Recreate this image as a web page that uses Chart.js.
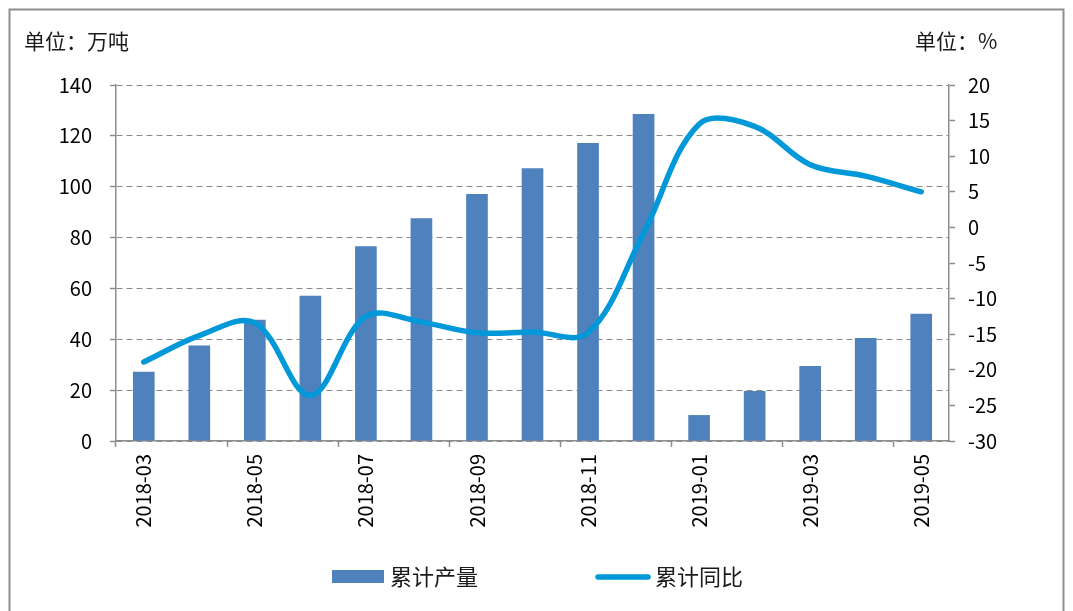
<!DOCTYPE html>
<html>
<head>
<meta charset="utf-8">
<script src="https://cdn.jsdelivr.net/npm/chart.js@4/dist/chart.umd.min.js"></script>
<style>
  html, body { margin: 0; padding: 0; background: #fff; }
  #wrap { width: 1073px; height: 611px; }
</style>
</head>
<body>
<div id="wrap"><canvas id="myChart" width="1073" height="611"></canvas></div>
<script>
// MONTHS ON THE X AXIS
const months = [
  "2018-03", "2018-04", "2018-05", "2018-06", "2018-07", "2018-08", "2018-09",
  "2018-10", "2018-11", "2018-12", "2019-01", "2019-02", "2019-03", "2019-04", "2019-05"
];

// 累计产量 (万吨)
const output = [27.2, 37.6, 47.7, 57.1, 76.6, 87.6, 97.1, 107.3, 117.2, 128.6, 10.2, 19.7, 29.5, 40.5, 50.0];

// 累计同比 (%)
const yoy = [-18.9, -15.2, -13.4, -23.6, -12.5, -13.3, -14.8, -14.7, -14.8, -0.8, 14.5, 14.2, 8.8, 7.2, 5.0];

// AXIS RANGES
const leftTicks = [0, 20, 40, 60, 80, 100, 120, 140];
const rightTicks = [-30, -25, -20, -15, -10, -5, 0, 5, 10, 15, 20];

const barColor = "#4f81bd";
const lineColor = "#0098d9";
const axisColor = "#8e8e8e";
const font = "'Noto Sans CJK SC', 'Noto Sans', sans-serif";

// FRAME, UNIT LABELS AND LEGEND
const extras = {
  id: "extras",
  beforeDraw(chart) {
    const ctx = chart.ctx;
    ctx.save();
    ctx.fillStyle = "#fff";
    ctx.fillRect(0, 0, chart.width, chart.height);
    ctx.restore();
  },
  afterDraw(chart) {
    const ctx = chart.ctx;
    ctx.save();
    ctx.strokeStyle = axisColor;
    ctx.lineWidth = 2;
    ctx.strokeRect(9.5, 9.5, 1054, 700);

    ctx.fillStyle = "#1a1a1a";
    ctx.textBaseline = "middle";
    ctx.font = "21px " + font;
    ctx.textAlign = "left";
    ctx.fillText("单位：万吨", 24, 41);
    ctx.fillText("单位：%", 915, 41);

    // legend
    ctx.font = "22px " + font;
    ctx.fillStyle = barColor;
    ctx.fillRect(332, 570, 52, 13);
    ctx.fillStyle = "#1a1a1a";
    ctx.fillText(chart.data.datasets[0].label, 390, 577);

    ctx.strokeStyle = lineColor;
    ctx.lineWidth = 5.5;
    ctx.lineCap = "round";
    ctx.beginPath();
    ctx.moveTo(598, 577);
    ctx.lineTo(648, 577);
    ctx.stroke();
    ctx.fillText(chart.data.datasets[1].label, 655, 577);
    ctx.restore();
  }
};

const myChart = document.getElementById("myChart").getContext("2d");

const productionChart = new Chart(myChart, {
  type: "bar",
  data: {
    labels: months,
    datasets: [
      {
        label: "累计产量",
        data: output,
        backgroundColor: barColor,
        borderWidth: 0,
        barPercentage: 0.39,
        categoryPercentage: 1,
        yAxisID: "y",
        order: 1,
      },
      {
        type: "line",
        label: "累计同比",
        data: yoy,
        borderColor: lineColor,
        borderWidth: 5.5,
        borderCapStyle: "round",
        borderJoinStyle: "round",
        pointRadius: 0,
        tension: 0.35,
        fill: false,
        yAxisID: "y1",
        order: 0,
      },
    ],
  },
  options: {
    responsive: false,
    animation: false,
    layout: { padding: { top: 85, left: 0, right: 0, bottom: 0 } },
    plugins: {
      legend: { display: false },
      tooltip: { enabled: false },
    },
    scales: {
      x: {
        offset: true,
        grid: {
          offset: true,
          drawOnChartArea: false,
          drawTicks: true,
          tickLength: 6,
          tickWidth: 1.5,
          tickColor: (c) => (c.index % 2 === 0 ? axisColor : "rgba(0,0,0,0)"),
        },
        border: { color: axisColor, width: 1.5 },
        ticks: {
          autoSkip: false,
          minRotation: 90,
          maxRotation: 90,
          padding: 7,
          color: "#000",
          font: { family: font, size: 20 },
          callback: function (value, index) {
            return index % 2 === 0 ? months[index] : "";
          },
        },
        afterFit: (scale) => { scale.height = 170; },
      },
      y: {
        position: "left",
        min: leftTicks[0],
        max: leftTicks[leftTicks.length - 1],
        afterBuildTicks: (scale) => { scale.ticks = leftTicks.map((v) => ({ value: v })); },
        grid: {
          color: "#8a8a8a",
          lineWidth: 1,
          drawTicks: true,
          tickLength: 6,
          tickWidth: 1.5,
          tickColor: axisColor,
        },
        border: { color: axisColor, width: 1.5, dash: [6, 4] },
        ticks: {
          padding: 18,
          color: "#000",
          font: { family: font, size: 20 },
        },
        afterFit: (scale) => { scale.width = 116; },
      },
      y1: {
        position: "right",
        min: rightTicks[0],
        max: rightTicks[rightTicks.length - 1],
        afterBuildTicks: (scale) => { scale.ticks = rightTicks.map((v) => ({ value: v })); },
        grid: {
          drawOnChartArea: false,
          drawTicks: true,
          tickLength: 6,
          tickWidth: 1.5,
          tickColor: axisColor,
        },
        border: { color: axisColor, width: 1.5 },
        ticks: {
          padding: 13,
          color: "#000",
          font: { family: font, size: 20 },
        },
        afterFit: (scale) => { scale.width = 124; },
      },
    },
  },
  plugins: [extras],
});
</script>
</body>
</html>
